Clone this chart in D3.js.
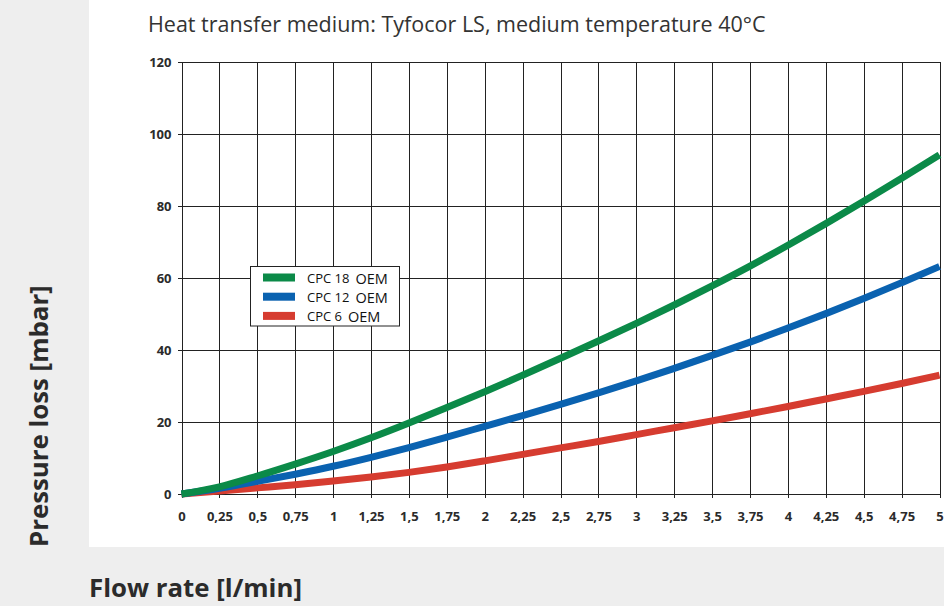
<!DOCTYPE html>
<meta charset="utf-8">
<style>
body { margin: 0; background: #eeeeee; }
text { font-family: "Open Sans", sans-serif; fill: #2b2b2b; }
.tick text { font-size: 13px; font-weight: 700; }
.grid line { stroke: #222; stroke-width: 1; shape-rendering: crispEdges; }
</style>
<body>
<script src="https://d3js.org/d3.v7.min.js"></script>
<script>

// flow rate [l/min]
var flow = [0, 0.25, 0.5, 0.75, 1, 1.25, 1.5, 1.75, 2, 2.25, 2.5, 2.75, 3, 3.25, 3.5, 3.75, 4, 4.25, 4.5, 4.75, 5];

// pressure loss [mbar]
var cpc18 = [0, 2.0, 5.0, 8.3, 11.8, 15.6, 19.7, 24.0, 28.4, 33.0, 37.7, 42.5, 47.4, 52.5, 57.8, 63.3, 69.1, 75.1, 81.3, 87.7, 94.2];
var cpc12 = [0, 1.6, 3.5, 5.5, 7.7, 10.2, 12.9, 15.8, 18.8, 21.8, 24.9, 28.1, 31.4, 34.9, 38.5, 42.2, 46.1, 50.1, 54.3, 58.7, 63.2];
var cpc6  = [0, 0.8, 1.7, 2.6, 3.6, 4.7, 6.0, 7.5, 9.2, 11.0, 12.8, 14.6, 16.5, 18.4, 20.3, 22.3, 24.3, 26.4, 28.5, 30.7, 33.0];

var seriesNames = ["CPC 18", "CPC 12", "CPC 6"];
var seriesColors = ["#0b8a48", "#0a62b0", "#d63c30"];

var yTicks = [0, 20, 40, 60, 80, 100, 120];

var W = 944, H = 606;
var margin = {top: 62, right: 4, bottom: 112, left: 181.5};

var svg = d3.select("body").append("svg")
    .attr("width", W)
    .attr("height", H);

// white panel behind the chart
svg.append("rect")
    .attr("x", 89).attr("y", 0)
    .attr("width", W - 89).attr("height", 547)
    .attr("fill", "#fff");

var x = d3.scaleLinear().domain([0, 5]).range([margin.left, 939.5]);
var y = d3.scaleLinear().domain([0, 120]).range([494, margin.top]);

// grid
var grid = svg.append("g").attr("class", "grid");
grid.selectAll(".v")
    .data(flow)
  .enter().append("line")
    .attr("x1", d => Math.round(x(d)) + 0.5)
    .attr("x2", d => Math.round(x(d)) + 0.5)
    .attr("y1", y(120))
    .attr("y2", y(0) + 4);

grid.selectAll(".h")
    .data(yTicks)
  .enter().append("line")
    .attr("x1", x(0) - 4)
    .attr("x2", x(5))
    .attr("y1", d => Math.round(y(d)) + 0.5)
    .attr("y2", d => Math.round(y(d)) + 0.5);

// axes (labels only, lines are drawn by the grid)
var xAxis = d3.axisBottom(x)
    .tickValues(flow)
    .tickSize(0)
    .tickPadding(18)
    .tickFormat(d => String(d).replace(".", ","));

var yAxis = d3.axisLeft(y)
    .tickValues(yTicks)
    .tickSize(0)
    .tickPadding(10);

svg.append("g")
    .attr("transform", "translate(0," + y(0) + ")")
    .call(xAxis)
    .call(g => g.select(".domain").remove());

svg.append("g")
    .attr("transform", "translate(" + x(0) + ",0)")
    .call(yAxis)
    .call(g => g.select(".domain").remove());

// curves
var line = d3.line()
    .x((d, i) => x(flow[i]))
    .y(d => y(d))
    .curve(d3.curveMonotoneX);

var series = [cpc18, cpc12, cpc6];

svg.append("g").selectAll("path")
    .data(series.slice().reverse())
  .enter().append("path")
    .attr("d", line)
    .attr("fill", "none")
    .attr("stroke", (d, i) => seriesColors[2 - i])
    .attr("stroke-width", 7);

// legend
var legend = svg.append("g");
legend.append("rect")
    .attr("x", 250.5).attr("y", 266.5)
    .attr("width", 149).attr("height", 59.5)
    .attr("fill", "#fff")
    .attr("stroke", "#222");

var item = legend.selectAll(".item")
    .data(seriesNames)
  .enter().append("g")
    .attr("transform", (d, i) => "translate(263," + (277.5 + i * 19.2) + ")");

item.append("rect")
    .attr("x", 0).attr("y", -4)
    .attr("width", 32).attr("height", 8)
    .attr("fill", (d, i) => seriesColors[i]);

var lt = item.append("text")
    .attr("x", 44)
    .attr("y", 5)
    .style("fill", "#111");
lt.append("tspan")
    .style("font-size", "13px")
    .text(d => d);
lt.append("tspan")
    .attr("dx", 6)
    .attr("dy", 1.5)
    .style("font-size", "14.5px")
    .text("OEM");

// titles
svg.append("text")
    .attr("x", 148).attr("y", 31.5)
    .style("font-size", "21.5px")
    .style("fill", "#333")
    .text("Heat transfer medium: Tyfocor LS, medium temperature 40°C");

svg.append("text")
    .attr("transform", "translate(48,547) rotate(-90)")
    .style("font-size", "25.8px")
    .style("font-weight", 700)
    .text("Pressure loss [mbar]");

svg.append("text")
    .attr("x", 89).attr("y", 597)
    .style("font-size", "25.8px")
    .style("font-weight", 700)
    .text("Flow rate [l/min]");

</script>
